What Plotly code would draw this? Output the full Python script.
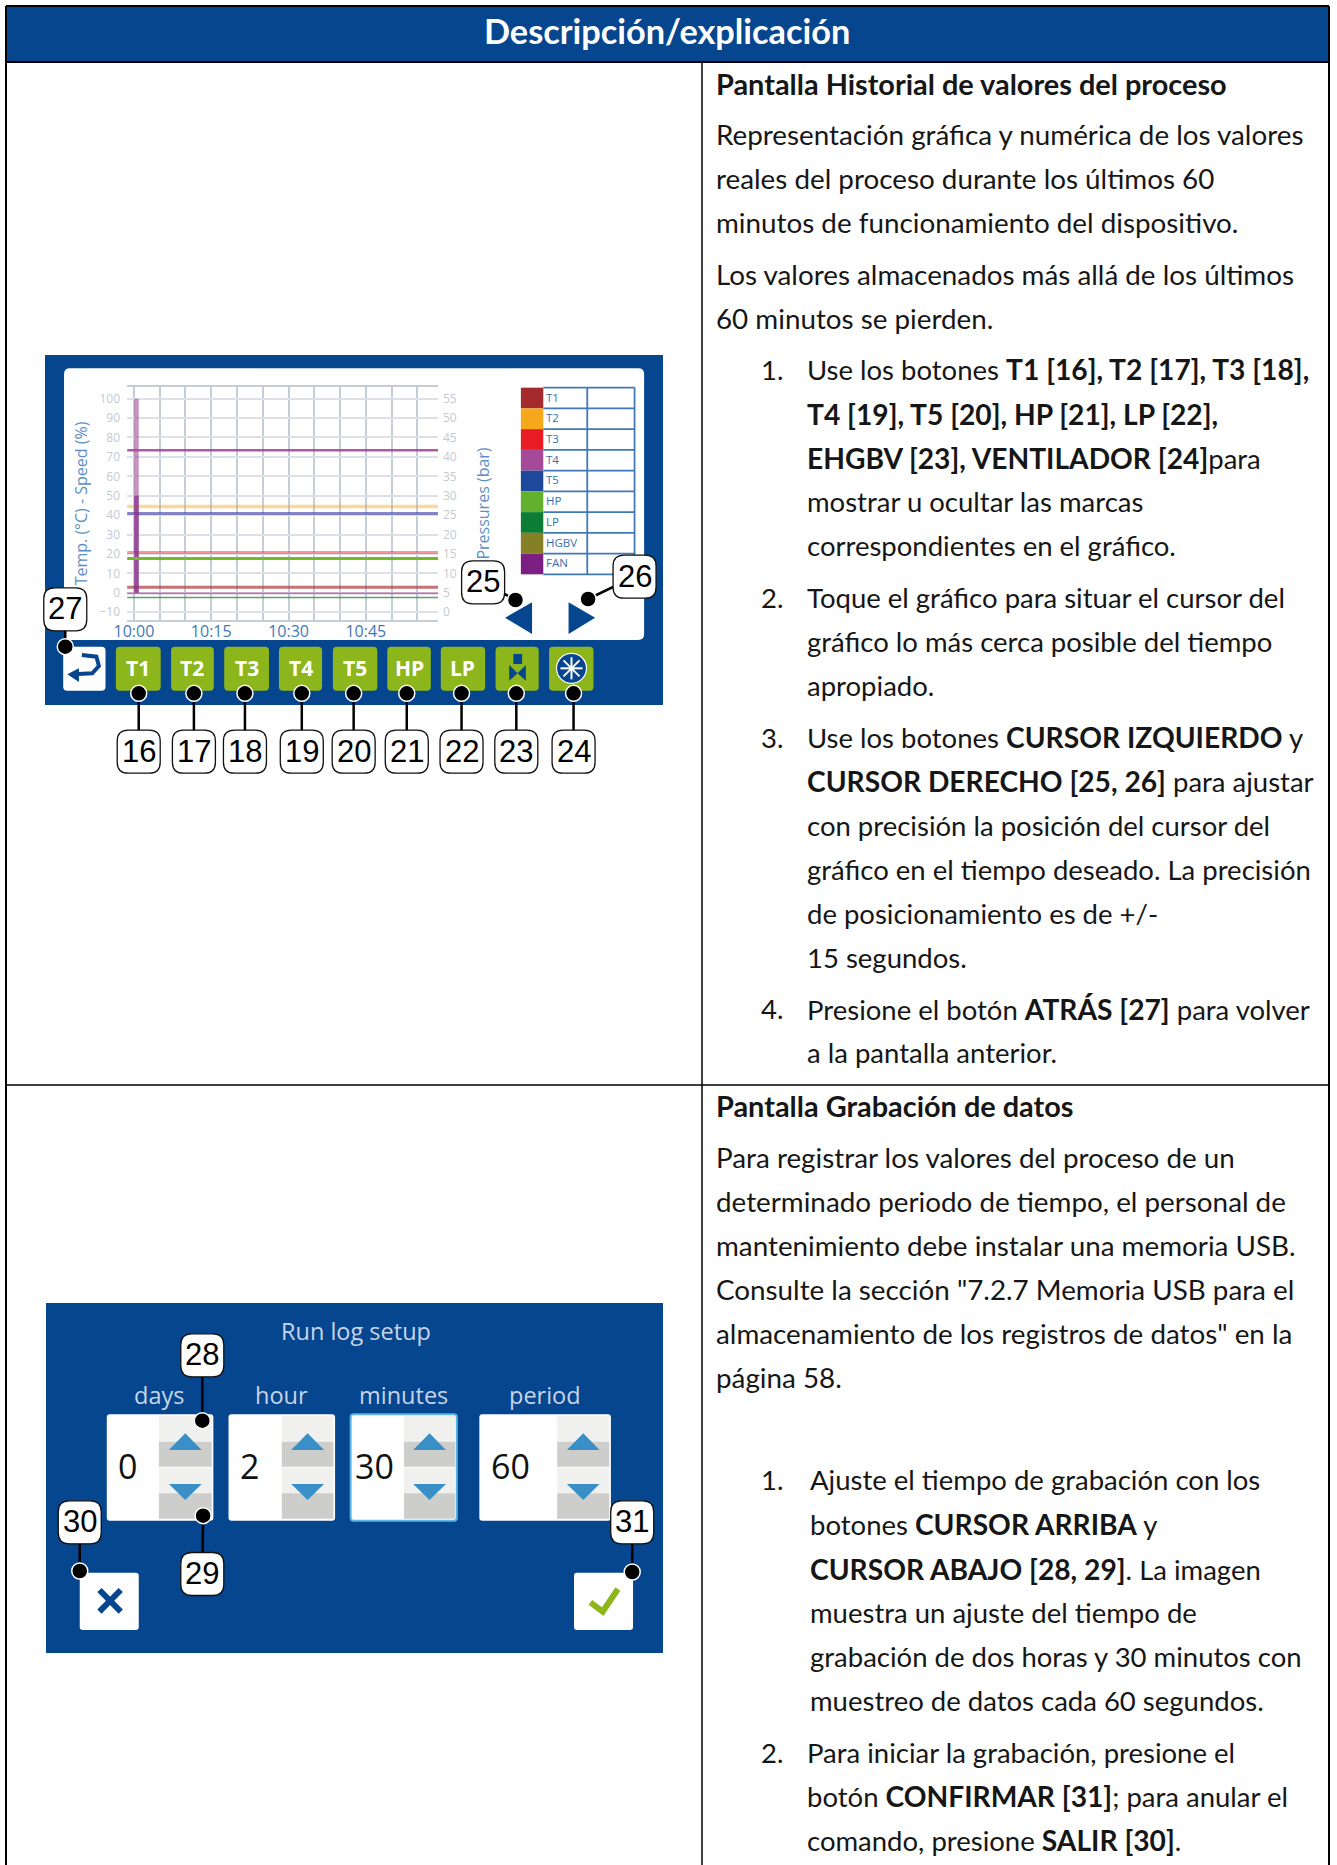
import plotly.graph_objects as go

W, H = 1337, 1865
NAVY = "#05468f"
BODY_FONT = "Lato"

# ---------- chart data ----------
series_names = ["T1", "T2", "T3", "T4", "T5", "HP", "LP", "HGBV", "FAN"]
series_colors = ["#a52a2e", "#f5a81c", "#e81c24", "#a54a98", "#1f4a9c", "#63b02e", "#0d7d35", "#857f26", "#7c1f82"]
time_span = [-1.3, 59]
t1_values = [2.9, 2.9]
t2_values = [44.5, 44.5]
t3_values = [20.8, 20.8]
t4_values = [73.4, 73.4]
t5_values = [40.9, 40.9]
hp_bar_values = [13.85, 13.85]
lp_bar_values = [3.8, 3.8]
trace_low_values = [-0.3, -0.3]
cursor_time = [0.5, 0.5]
fan_values = [0, 100]
hgbv_values = [0, 50]
x_ticks = [0, 5, 10, 15, 20, 25, 30, 35, 40, 45, 50, 55]
x_labels = ["10:00", "", "", "10:15", "", "", "10:30", "", "", "10:45", "", ""]
y_ticks = [-10, 0, 10, 20, 30, 40, 50, 60, 70, 80, 90, 100]
y2_ticks = [0, 5, 10, 15, 20, 25, 30, 35, 40, 45, 50, 55]

# ---------- document text ----------
header_text = "Descripción/explicación"
body_lines = [
    (716, 71, "<b>Pantalla Historial de valores del proceso</b>"),
    (716, 114, "Representación gráfica y numérica de los valores"),
    (716, 151, "reales del proceso durante los últimos 60"),
    (716, 188, "minutos de funcionamiento del dispositivo."),
    (716, 232, "Los valores almacenados más allá de los últimos"),
    (716, 269, "60 minutos se pierden."),
    (761, 312, "1."),
    (807, 311, "Use los botones <b>T1 [16], T2 [17], T3 [18],</b>"),
    (807, 349, "<b>T4 [19], T5 [20], HP [21], LP [22],</b>"),
    (807, 386, "<b>EHGBV [23], VENTILADOR [24]</b>para"),
    (807, 423, "mostrar u ocultar las marcas"),
    (807, 460, "correspondientes en el gráfico."),
    (761, 503, "2."),
    (807, 503, "Toque el gráfico para situar el cursor del"),
    (807, 540, "gráfico lo más cerca posible del tiempo"),
    (807, 577, "apropiado."),
    (761, 621, "3."),
    (807, 621, "Use los botones <b>CURSOR IZQUIERDO</b> y"),
    (807, 658, "<b>CURSOR DERECHO [25, 26]</b> para ajustar"),
    (807, 695, "con precisión la posición del cursor del"),
    (807, 732, "gráfico en el tiempo deseado. La precisión"),
    (807, 769, "de posicionamiento es de +/-"),
    (807, 806, "15 segundos."),
    (761, 849, "4."),
    (807, 849, "Presione el botón <b>ATRÁS [27]</b> para volver"),
    (807, 886, "a la pantalla anterior."),
    (716, 930, "<b>Pantalla Grabación de datos</b>"),
    (716, 974, "Para registrar los valores del proceso de un"),
    (716, 1011, "determinado periodo de tiempo, el personal de"),
    (716, 1048, "mantenimiento debe instalar una memoria USB."),
    (716, 1085, "Consulte la sección \"7.2.7 Memoria USB para el"),
    (716, 1122, "almacenamiento de los registros de datos\" en la"),
    (716, 1159, "página 58."),
    (761, 1245, "1."),
    (810, 1245, "Ajuste el tiempo de grabación con los"),
    (810, 1282, "botones <b>CURSOR ARRIBA</b> y"),
    (810, 1320, "<b>CURSOR ABAJO [28, 29]</b>. La imagen"),
    (810, 1357, "muestra un ajuste del tiempo de"),
    (810, 1394, "grabación de dos horas y 30 minutos con"),
    (810, 1431, "muestreo de datos cada 60 segundos."),
    (761, 1474, "2."),
    (807, 1474, "Para iniciar la grabación, presione el"),
    (807, 1511, "botón <b>CONFIRMAR [31]</b>; para anular el"),
    (807, 1548, "comando, presione <b>SALIR [30]</b>."),
]

shapes, annos = [], []
def X(x): return x / W
def Y(y): return 1 - y / H

def rect(x0, y0, x1, y1, fill, line=None, lw=0, layer="below"):
    shapes.append(dict(type="rect", xref="paper", yref="paper", x0=X(x0), x1=X(x1), y0=Y(y0), y1=Y(y1),
                       fillcolor=fill, line=dict(color=line or fill, width=lw), layer=layer))

def seg(x0, y0, x1, y1, color, lw, layer="below"):
    shapes.append(dict(type="line", xref="paper", yref="paper", x0=X(x0), x1=X(x1), y0=Y(y0), y1=Y(y1),
                       line=dict(color=color, width=lw), layer=layer))

def poly(points, fill, line=None, lw=0, layer="below", close=True):
    d = "M " + " L ".join(f"{X(a):.5f},{Y(b):.5f}" for a, b in points) + (" Z" if close else "")
    shapes.append(dict(type="path", xref="paper", yref="paper", path=d, fillcolor=fill,
                       line=dict(color=line or fill, width=lw), layer=layer))

def rrect(x0, y0, x1, y1, r, fill, line=None, lw=0, layer="below"):
    d = (f"M {X(x0+r):.5f},{Y(y0):.5f} L {X(x1-r):.5f},{Y(y0):.5f} Q {X(x1):.5f},{Y(y0):.5f} {X(x1):.5f},{Y(y0+r):.5f} "
         f"L {X(x1):.5f},{Y(y1-r):.5f} Q {X(x1):.5f},{Y(y1):.5f} {X(x1-r):.5f},{Y(y1):.5f} "
         f"L {X(x0+r):.5f},{Y(y1):.5f} Q {X(x0):.5f},{Y(y1):.5f} {X(x0):.5f},{Y(y1-r):.5f} "
         f"L {X(x0):.5f},{Y(y0+r):.5f} Q {X(x0):.5f},{Y(y0):.5f} {X(x0+r):.5f},{Y(y0):.5f} Z")
    shapes.append(dict(type="path", xref="paper", yref="paper", path=d, fillcolor=fill,
                       line=dict(color=line or fill, width=lw), layer=layer))

def circle(cx, cy, r, fill, line=None, lw=0, layer="above"):
    shapes.append(dict(type="circle", xref="paper", yref="paper", x0=X(cx-r), x1=X(cx+r), y0=Y(cy-r), y1=Y(cy+r),
                       fillcolor=fill, line=dict(color=line or fill, width=lw), layer=layer))

def text(x, y, s, size, color="#000000", font="Open Sans", anchor="center", angle=0):
    annos.append(dict(xref="paper", yref="paper", x=X(x), y=Y(y), text=s, showarrow=False, xanchor=anchor,
                      yanchor="middle", borderpad=0, borderwidth=0, textangle=angle,
                      font=dict(family=font, size=size, color=color)))

def callout(cx, cy, label, dot, via=None):
    hw, hh = 21.5, 21.5
    seg(dot[0], dot[1], cx, cy, "#000000", 2.5, layer="above")
    circle(dot[0], dot[1], 8, "#000000", "#ffffff", 1.5)
    rrect(cx-hw, cy-hh, cx+hw, cy+hh, 11, "#ffffff", "#111111", 1.3, layer="above")
    text(cx, cy-0.5, label, 31, "#000000", "Liberation Sans")

# ---------- table frame ----------
rect(6, 6, 1329, 62, NAVY)
seg(6, 6, 1329, 6, "#000000", 2)
seg(6, 62, 1329, 62, "#000000", 2)
seg(6, 6, 6, H, "#000000", 2)
seg(1329, 6, 1329, H, "#000000", 2)
seg(702, 62, 702, H, "#000000", 1.5)
seg(6, 1085, 1329, 1085, "#000000", 1.5)
text(667, 31, "<b>" + header_text + "</b>", 34.3, "#ffffff", BODY_FONT)
for x, y, s in body_lines:
    is_heading = s.startswith("<b>Pantalla")
    bold_size = 28.9 if is_heading else 28.2
    size = 27.8 if x == 716 else 27.5
    text(x, y * 1.1895 - 1.2, s.replace("<b>", f'<b style="font-size:{bold_size}px">'), size, "#161616", BODY_FONT, anchor="left")

# ---------- first screen ----------
def ax(zx): return 30 + zx / 2.41
def ay(zy): return 340 + zy / 3

rect(45, 355, 663, 705, NAVY)
rrect(ax(82), ay(85), ax(1480), ay(900), 6, "#ffffff")

# legend table
ly0, ly1 = 143, 703
rows = len(series_names)
step = (ly1 - ly0) / rows
LINE = "#4179b8"
for i, (n, c) in enumerate(zip(series_names, series_colors)):
    top = ly0 + i * step
    rect(ax(1183), ay(top), ax(1237), ay(top + step), c)
    seg(ax(1237), ay(top), ax(1457), ay(top), LINE, 1.8)
    text(ax(1243), ay(top + step / 2) - 1, n, 11.5, "#3a6fae", "Open Sans", anchor="left")
seg(ax(1237), ay(ly1), ax(1457), ay(ly1), LINE, 1.8)
seg(ax(1343), ay(ly0), ax(1343), ay(ly1), LINE, 1.8)
seg(ax(1457), ay(ly0), ax(1457), ay(ly1), LINE, 1.8)
# cursor arrows
poly([(ax(1145), ay(833)), (ax(1210), ay(787)), (ax(1210), ay(882))], NAVY)
poly([(ax(1298), ay(787)), (ax(1362), ay(833)), (ax(1298), ay(882))], NAVY)

# bottom buttons
GREEN = "#8cb61c"
btn_spans = [(207, 315), (340, 443), (468, 576), (600, 704), (730, 837), (861, 966), (990, 1097), (1122, 1226), (1251, 1358)]
btn_labels = ["T1", "T2", "T3", "T4", "T5", "HP", "LP", "", ""]
for (a, b), lab in zip(btn_spans, btn_labels):
    rrect(ax(a), ay(920), ax(b), ay(1052), 4, GREEN)
    if lab:
        text(ax((a + b) / 2), ay(985), "<b>" + lab + "</b>", 21, "#ffffff", "Open Sans")
# back button
rrect(ax(80), ay(920), ax(182), ay(1052), 4, "#ffffff")
poly([(ax(125), ay(945)), (ax(160), ay(950)), (ax(166), ay(978)), (ax(150), ay(1000)), (ax(105), ay(1003))],
     "rgba(0,0,0,0)", NAVY, 4, close=False)
poly([(ax(90), ay(1003)), (ax(118), ay(985)), (ax(118), ay(1026))], NAVY)
# HGBV icon
poly([(ax(1155), ay(975)), (ax(1175), ay(1000)), (ax(1195), ay(975)), (ax(1195), ay(1022)), (ax(1175), ay(1000)), (ax(1155), ay(1022))], NAVY)
rect(ax(1165), ay(942), ax(1186), ay(972), NAVY)
# fan icon
cx_f, cy_f = ax(1305), ay(985)
circle(cx_f, cy_f, 15, NAVY, "#ffffff", 1.2, layer="below")
for d in [(11, 0), (0, 11), (8, 8), (8, -8)]:
    seg(cx_f - d[0], cy_f - d[1], cx_f + d[0], cy_f + d[1], "#ffffff", 2)

for i, lab in enumerate(["16", "17", "18", "19", "20", "21", "22", "23", "24"]):
    zx = [262, 395, 518, 655, 780, 908, 1040, 1172, 1310][i]
    callout(ax(zx), ay(1235), lab, (ax(zx), ay(1060)))
callout(ax(1092), ay(727), "25", (ax(1170), ay(780)))
callout(ax(1457), ay(710), "26", (ax(1345), ay(777)))
callout(ax(85), ay(808), "27", (ax(85), ay(920)))

# ---------- second screen ----------
def bx(zx): return 40 + zx / 2.44
def by(zy): return 1290 + zy / 3

rect(46, 1303, 663, 1653, NAVY)
TITLE_C = "#c6d5ea"
text(bx(770), by(124), "Run log setup", 23.5, TITLE_C, "Open Sans")
spin = [(163, 290, 423, "days", "0", 213), (460, 590, 720, "hour", "2", 510),
        (758, 888, 1017, "minutes", "30", 815), (1072, 1262, 1393, "period", "60", 1147)]
for a, m, b, lab, val, vx in spin:
    text(bx((a + b) / 2 if lab in ("hour", "minutes", "period") else 290), by(316), lab, 23.5, TITLE_C, "Open Sans")
    rrect(bx(a), by(373), bx(b), by(692), 3, "#ffffff", "#5bb5e5" if lab == "minutes" else "#ffffff", 2 if lab == "minutes" else 0)
    rect(bx(m), by(378), bx(b - 4), by(455), "#f0f0ee")
    rect(bx(m), by(455), bx(b - 4), by(530), "#cdcdcb")
    rect(bx(m), by(533), bx(b - 4), by(610), "#f0f0ee")
    rect(bx(m), by(610), bx(b - 4), by(686), "#cdcdcb")
    c = (m + b - 4) / 2
    poly([(bx(c - 40), by(480)), (bx(c), by(430)), (bx(c + 40), by(480))], "#3a8fc7")
    poly([(bx(c - 40), by(582)), (bx(c), by(630)), (bx(c + 40), by(582))], "#3a8fc7")
    text(bx(vx), by(529), val, 34, "#111111", "Open Sans")
rrect(bx(97), by(848), bx(241), by(1020), 3, "#ffffff")
rrect(bx(1303), by(848), bx(1447), by(1020), 3, "#ffffff")
seg(bx(145), by(900), bx(197), by(965), NAVY, 6)
seg(bx(197), by(900), bx(145), by(965), NAVY, 6)
poly([(bx(1343), by(937)), (bx(1373), by(965)), (bx(1410), by(897))], "rgba(0,0,0,0)", "#8cb61c", 6, close=False)
callout(bx(396), by(196), "28", (bx(396), by(392)))
callout(bx(396), by(852), "29", (bx(398), by(677)))
callout(bx(97), by(697), "30", (bx(97), by(843)))
callout(bx(1445), by(697), "31", (bx(1445), by(846)))

# ---------- chart traces ----------
fig = go.Figure()
def hline(values, color, width, name, axis="y"):
    fig.add_trace(go.Scatter(x=time_span, y=values, mode="lines", name=name, yaxis=axis,
                             line=dict(color=color, width=width), showlegend=False))

hline(t2_values, "rgba(245,168,28,0.45)", 3.5, "T2")
hline(t5_values, "rgba(70,70,170,0.65)", 3, "T5")
hline(t3_values, "rgba(232,50,60,0.5)", 3, "T3")
hline(hp_bar_values, "#75b82a", 3, "HP", "y2")
hline(t1_values, "rgba(165,42,46,0.65)", 3, "T1")
hline(trace_low_values, "rgba(165,74,152,0.7)", 1.8, "T4 low")
hline(lp_bar_values, "rgba(60,150,70,0.85)", 1.5, "LP", "y2")
hline(t4_values, "rgba(165,60,150,0.85)", 2.5, "T4")
fig.add_trace(go.Scatter(x=cursor_time, y=fan_values, mode="lines", name="FAN", showlegend=False,
                         line=dict(color="rgba(165,74,152,0.6)", width=4.5)))
fig.add_trace(go.Scatter(x=cursor_time, y=hgbv_values, mode="lines", name="HGBV", showlegend=False,
                         line=dict(color="rgba(124,31,130,0.6)", width=4.5)))

GRID_H, GRID_V, TICK = "#dde1e7", "#c5cdd7", "#c3cad4"
fig.update_layout(
    width=W, height=H, autosize=False, margin=dict(l=0, r=0, t=0, b=0),
    paper_bgcolor="#ffffff", plot_bgcolor="#ffffff", shapes=shapes, annotations=annos, showlegend=False,
    xaxis=dict(domain=[X(127), X(438)], range=[-1.34, 59], tickmode="array", tickvals=x_ticks, ticktext=x_labels,
               showgrid=True, gridcolor=GRID_V, gridwidth=2, zeroline=False, showline=True, linecolor=GRID_V,
               linewidth=2, mirror=True, ticks="", anchor="y", ticklabelstandoff=-4, automargin=False,
               tickfont=dict(family="Open Sans", size=16, color="#3f78b5")),
    yaxis=dict(domain=[Y(620), Y(387)], range=[-14, 106], tickmode="array", tickvals=y_ticks,
               showgrid=True, gridcolor=GRID_H, gridwidth=2, zeroline=False, ticks="", showline=False,
               ticklabelstandoff=6, automargin=False,
               tickfont=dict(family="Open Sans", size=12, color=TICK),
               title=dict(text="Temp. (°C) - Speed (%)", standoff=7,
                          font=dict(family="Open Sans", size=16, color="#5d8fc4"))),
    yaxis2=dict(overlaying="y", side="right", anchor="x", range=[-2, 58], tickmode="array", tickvals=y2_ticks,
                showgrid=False, zeroline=False, ticks="", showline=False, ticklabelstandoff=4, automargin=False,
                tickfont=dict(family="Open Sans", size=12, color=TICK),
                title=dict(text="Pressures (bar)", standoff=21,
                           font=dict(family="Open Sans", size=16, color="#5d8fc4"))),
)
fig.write_html("out.html", config=dict(displayModeBar=False),
               post_script="document.body.style.margin='0';document.documentElement.style.overflow='hidden';")
